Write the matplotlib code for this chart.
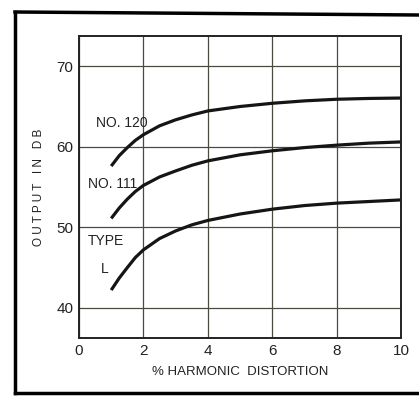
import matplotlib.pyplot as plt
from matplotlib.lines import Line2D

# distortion (%) and output (db)
x = [1, 1.25, 1.5, 1.75, 2, 2.5, 3, 3.5, 4, 5, 6, 7, 8, 9, 10]
no120 = [57.6, 58.9, 59.9, 60.8, 61.5, 62.6, 63.35, 63.95, 64.45, 65.0, 65.4, 65.7, 65.9, 66.0, 66.05]
no111 = [51.1, 52.4, 53.5, 54.45, 55.2, 56.25, 57.0, 57.7, 58.25, 59.0, 59.5, 59.9, 60.2, 60.45, 60.6]
type_l = [42.2, 43.7, 45.0, 46.25, 47.2, 48.6, 49.55, 50.3, 50.85, 51.65, 52.25, 52.7, 53.0, 53.2, 53.4]

xticks = [0, 2, 4, 6, 8, 10]
yticks = [40, 50, 60, 70]

plt.rcParams['font.family'] = ['Liberation Sans', 'DejaVu Sans']

fig = plt.figure(figsize=(4.19, 3.96), dpi=100)
ax = fig.add_axes([0.1885, 0.1465, 0.7695, 0.7625])

for vals in (no120, no111, type_l):
    ax.plot(x, vals, color='#151515', linewidth=2.3, solid_capstyle='butt',
            solid_joinstyle='round')

ax.set_xlim(0, 10)
ax.set_ylim(36.25, 73.75)
ax.set_xticks(xticks)
ax.set_yticks(yticks)
ax.grid(True, color='#4a4a40', linewidth=0.9)
ax.tick_params(length=0, labelsize=11, pad=4, colors='#222222')
for s in ax.spines.values():
    s.set_linewidth(1.4)
    s.set_color('#222222')

ax.text(1.34, 62.9, 'NO. 120', fontsize=10, ha='center', va='center', color='#222222')
ax.text(1.03, 55.4, 'NO. 111', fontsize=10, ha='center', va='center', color='#222222')
ax.text(0.84, 48.3, 'TYPE', fontsize=10, ha='center', va='center', color='#222222')
ax.text(0.8, 44.8, 'L', fontsize=10, ha='center', va='center', color='#222222')

ax.set_xlabel('% HARMONIC  DISTORTION', fontsize=9.5, labelpad=6, color='#222222')
ax.set_ylabel('O U T P U T   I N   D B', fontsize=8.5, labelpad=8, color='#222222')

# outer frame
fig.add_artist(Line2D([15 / 419, 15 / 419], [1 - 12 / 396, 1 - 393 / 396],
                      transform=fig.transFigure, color='black', linewidth=2.5))
fig.add_artist(Line2D([15 / 419, 1], [1 - 12 / 396, 1 - 15 / 396],
                      transform=fig.transFigure, color='black', linewidth=2.5))
fig.add_artist(Line2D([15 / 419, 1], [1 - 393 / 396, 1 - 393 / 396],
                      transform=fig.transFigure, color='black', linewidth=2.5))

fig.savefig('out.png', dpi=100)
